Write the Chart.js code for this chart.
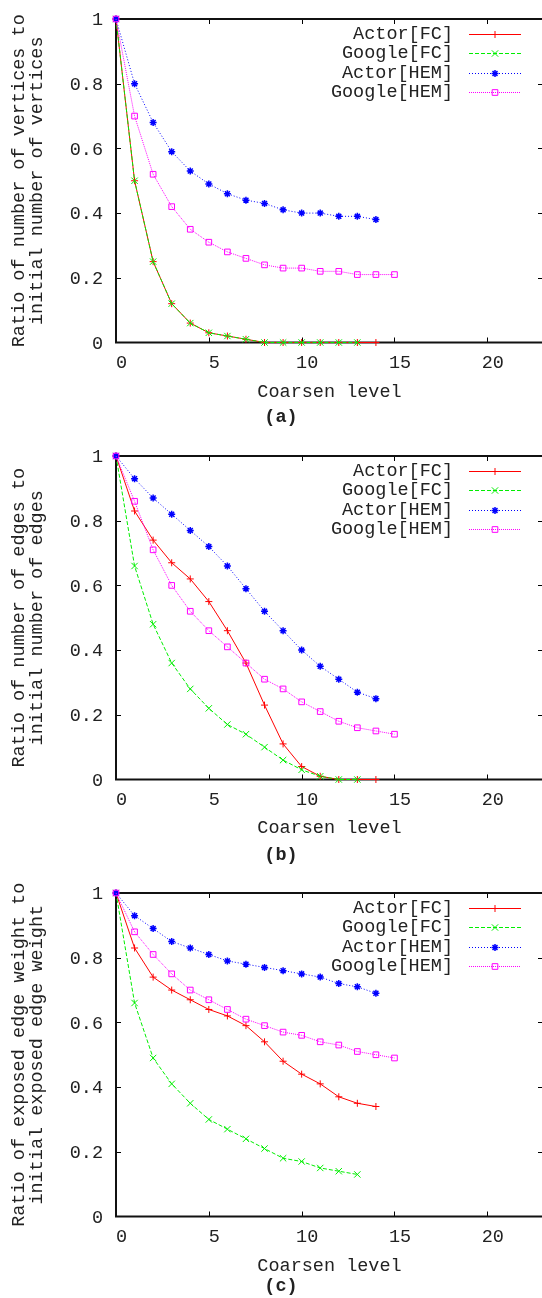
<!DOCTYPE html>
<html>
<head>
<meta charset="utf-8">
<script src="https://cdn.jsdelivr.net/npm/chart.js@4/dist/chart.umd.min.js"></script>
<style>
  html, body { margin: 0; padding: 0; background: #fff; overflow: hidden; }
  #wrap { position: relative; width: 542px; height: 1298px; overflow: hidden; }
  canvas { position: absolute; left: 0; }
</style>
</head>
<body>
<div id="wrap">
  <canvas id="chartA" width="560" height="437" style="top:0px"></canvas>
  <canvas id="chartB" width="560" height="437" style="top:437px"></canvas>
  <canvas id="chartC" width="560" height="437" style="top:874px"></canvas>
</div>
<script>
// coarsen levels (x values)
const levels = [0, 1, 2, 3, 4, 5, 6, 7, 8, 9, 10, 11, 12, 13, 14, 15];
const xTicks = [0, 5, 10, 15, 20];
const yTicks = [0, 0.2, 0.4, 0.6, 0.8, 1];
const seriesNames = ['Actor[FC]', 'Google[FC]', 'Actor[HEM]', 'Google[HEM]'];

// (a) vertices
const actorFCVert = [1, 0.50, 0.25, 0.12, 0.06, 0.03, 0.02, 0.01, 0, 0, 0, 0, 0, 0, 0];
const googleFCVert = [1, 0.50, 0.25, 0.12, 0.06, 0.03, 0.02, 0.01, 0, 0, 0, 0, 0, 0];
const actorHEMVert = [1, 0.80, 0.68, 0.59, 0.53, 0.49, 0.46, 0.44, 0.43, 0.41, 0.40, 0.40, 0.39, 0.39, 0.38];
const googleHEMVert = [1, 0.70, 0.52, 0.42, 0.35, 0.31, 0.28, 0.26, 0.24, 0.23, 0.23, 0.22, 0.22, 0.21, 0.21, 0.21];

// (b) edges
const actorFCEdge = [1, 0.83, 0.74, 0.67, 0.62, 0.55, 0.46, 0.36, 0.23, 0.11, 0.04, 0.01, 0, 0, 0];
const googleFCEdge = [1, 0.66, 0.48, 0.36, 0.28, 0.22, 0.17, 0.14, 0.10, 0.06, 0.03, 0.01, 0, 0];
const actorHEMEdge = [1, 0.93, 0.87, 0.82, 0.77, 0.72, 0.66, 0.59, 0.52, 0.46, 0.40, 0.35, 0.31, 0.27, 0.25];
const googleHEMEdge = [1, 0.86, 0.71, 0.60, 0.52, 0.46, 0.41, 0.36, 0.31, 0.28, 0.24, 0.21, 0.18, 0.16, 0.15, 0.14];

// (c) exposed edge weight
const actorFCWeight = [1, 0.83, 0.74, 0.70, 0.67, 0.64, 0.62, 0.59, 0.54, 0.48, 0.44, 0.41, 0.37, 0.35, 0.34];
const googleFCWeight = [1, 0.66, 0.49, 0.41, 0.35, 0.30, 0.27, 0.24, 0.21, 0.18, 0.17, 0.15, 0.14, 0.13];
const actorHEMWeight = [1, 0.93, 0.89, 0.85, 0.83, 0.81, 0.79, 0.78, 0.77, 0.76, 0.75, 0.74, 0.72, 0.71, 0.69];
const googleHEMWeight = [1, 0.88, 0.81, 0.75, 0.70, 0.67, 0.64, 0.61, 0.59, 0.57, 0.56, 0.54, 0.53, 0.51, 0.50, 0.49];

const FONT = '"Liberation Mono", "DejaVu Sans Mono", monospace';
const FSIZE = 18.5;

// gnuplot-ish line styles
const styles = [
  { color: '#ff0000', dash: [], point: 'cross', radius: 3.5, pw: 1 },
  { color: '#00ee00', dash: [4, 2], point: 'crossRot', radius: 4.5, pw: 1 },
  { color: '#0000ff', dash: [1, 2], point: 'star', radius: 3.5, pw: 1.5 },
  { color: '#ff00ff', dash: [1, 1], point: 'rect', radius: 4, pw: 1 }
];

const toPoints = (vals) => vals.map((v, i) => ({ x: levels[i], y: v }));

// border box, mirrored inward ticks, titles and the legend
const framePlugin = {
  id: 'frame',
  beforeDatasetsDraw(chart) {
    const { ctx, chartArea: a, scales: { x, y } } = chart;
    ctx.save();
    ctx.strokeStyle = '#000';
    ctx.lineWidth = 1;
    ctx.beginPath();
    xTicks.forEach(v => {
      if (v <= x.min || v >= x.max) return;
      const px = Math.round(x.getPixelForValue(v)) + 0.5;
      ctx.moveTo(px, a.bottom); ctx.lineTo(px, a.bottom - 5);
      ctx.moveTo(px, a.top); ctx.lineTo(px, a.top + 5);
    });
    yTicks.forEach(v => {
      if (v <= y.min || v >= y.max) return;
      const py = Math.round(y.getPixelForValue(v)) + 0.5;
      ctx.moveTo(a.left, py); ctx.lineTo(a.left + 5, py);
      ctx.moveTo(a.right, py); ctx.lineTo(a.right - 5, py);
    });
    ctx.stroke();
    ctx.lineWidth = 2;
    ctx.strokeStyle = '#111';
    ctx.strokeRect(a.left, a.top, a.right - a.left, a.bottom - a.top);
    ctx.restore();
  },
  afterDraw(chart, args, opts) {
    const { ctx, chartArea: a } = chart;
    ctx.save();
    ctx.fillStyle = '#222';
    ctx.font = FSIZE + 'px ' + FONT;
    ctx.textBaseline = 'middle';

    // y title, two lines
    const cy = (a.top + a.bottom) / 2;
    [19, 37].forEach((lx, k) => {
      ctx.save();
      ctx.textAlign = 'center';
      ctx.translate(lx, cy);
      ctx.rotate(-Math.PI / 2);
      ctx.fillText(opts.yTitle[k], 0, 0);
      ctx.restore();
    });

    // x title
    ctx.textAlign = 'center';
    ctx.fillText('Coarsen level', (a.left + a.right) / 2, opts.xTitleY);

    // caption
    ctx.font = 'bold ' + FSIZE + 'px ' + FONT;
    ctx.fillText(opts.caption, 281, opts.captionY);

    // legend
    ctx.font = FSIZE + 'px ' + FONT;
    ctx.textAlign = 'right';
    chart.data.datasets.forEach((ds, i) => {
      const st = styles[i];
      const ly = Math.round(a.top + 15 + 19.4 * i) + 0.5;
      ctx.fillStyle = '#222';
      ctx.fillText(seriesNames[i], 453, ly);
      ctx.save();
      ctx.strokeStyle = st.color;
      ctx.fillStyle = st.point === 'rect' ? 'rgba(0,0,0,0)' : st.color;
      ctx.lineWidth = 1;
      ctx.setLineDash(st.dash);
      ctx.beginPath();
      ctx.moveTo(469, ly);
      ctx.lineTo(521, ly);
      ctx.stroke();
      ctx.setLineDash([]);
      ctx.lineWidth = st.pw;
      Chart.helpers.drawPoint(ctx, { pointStyle: st.point, radius: st.radius, borderWidth: st.pw, rotation: 0 }, 495, ly);
      ctx.restore();
    });
    ctx.restore();
  }
};

function makeChart(id, values, yTitle, caption, xTitleY, captionY) {
  const ctx = document.getElementById(id).getContext('2d');
  return new Chart(ctx, {
    type: 'line',
    data: {
      datasets: values.map((vals, i) => ({
        label: seriesNames[i],
        data: toPoints(vals),
        borderColor: styles[i].color,
        backgroundColor: styles[i].color,
        borderWidth: 1,
        borderDash: styles[i].dash,
        pointStyle: styles[i].point,
        pointRadius: styles[i].radius,
        pointBorderWidth: styles[i].pw,
        pointBorderColor: styles[i].color,
        pointBackgroundColor: 'rgba(0,0,0,0)',
        tension: 0,
        fill: false,
        clip: false,
        order: 4 - i // later series on top, like gnuplot
      }))
    },
    options: {
      responsive: false,
      animation: false,
      devicePixelRatio: 1,
      layout: { padding: { top: 19, right: 17, left: 0, bottom: 0 } },
      plugins: {
        legend: { display: false },
        tooltip: { enabled: false },
        frame: { yTitle, caption, xTitleY, captionY }
      },
      scales: {
        x: {
          type: 'linear',
          min: 0,
          max: 23,
          grid: { display: false, drawTicks: false },
          border: { display: false },
          afterBuildTicks: (s) => { s.ticks = xTicks.map(v => ({ value: v })); },
          afterFit: (s) => { s.height = 94.5; s.paddingLeft = 0; s.paddingRight = 0; },
          ticks: {
            padding: 10,
            labelOffset: 5.5,
            maxRotation: 0,
            color: '#222',
            font: { family: FONT, size: FSIZE }
          }
        },
        y: {
          min: 0,
          max: 1,
          grid: { display: false, drawTicks: false },
          border: { display: false },
          afterBuildTicks: (s) => { s.ticks = yTicks.map(v => ({ value: v })); },
          afterFit: (s) => { s.width = 116; s.paddingTop = 0; s.paddingBottom = 0; },
          ticks: {
            padding: 13,
            labelOffset: 1.5,
            color: '#222',
            font: { family: FONT, size: FSIZE },
            callback: (v) => String(+v.toFixed(2))
          }
        }
      }
    },
    plugins: [framePlugin]
  });
}

makeChart('chartA', [actorFCVert, googleFCVert, actorHEMVert, googleHEMVert],
  ['Ratio of number of vertices to', 'initial number of vertices'], '(a)', 392, 417);
makeChart('chartB', [actorFCEdge, googleFCEdge, actorHEMEdge, googleHEMEdge],
  ['Ratio of number of edges to', 'initial number of edges'], '(b)', 391, 418);
makeChart('chartC', [actorFCWeight, googleFCWeight, actorHEMWeight, googleHEMWeight],
  ['Ratio of exposed edge weight to', 'initial exposed edge weight'], '(c)', 392, 412);
</script>
</body>
</html>
